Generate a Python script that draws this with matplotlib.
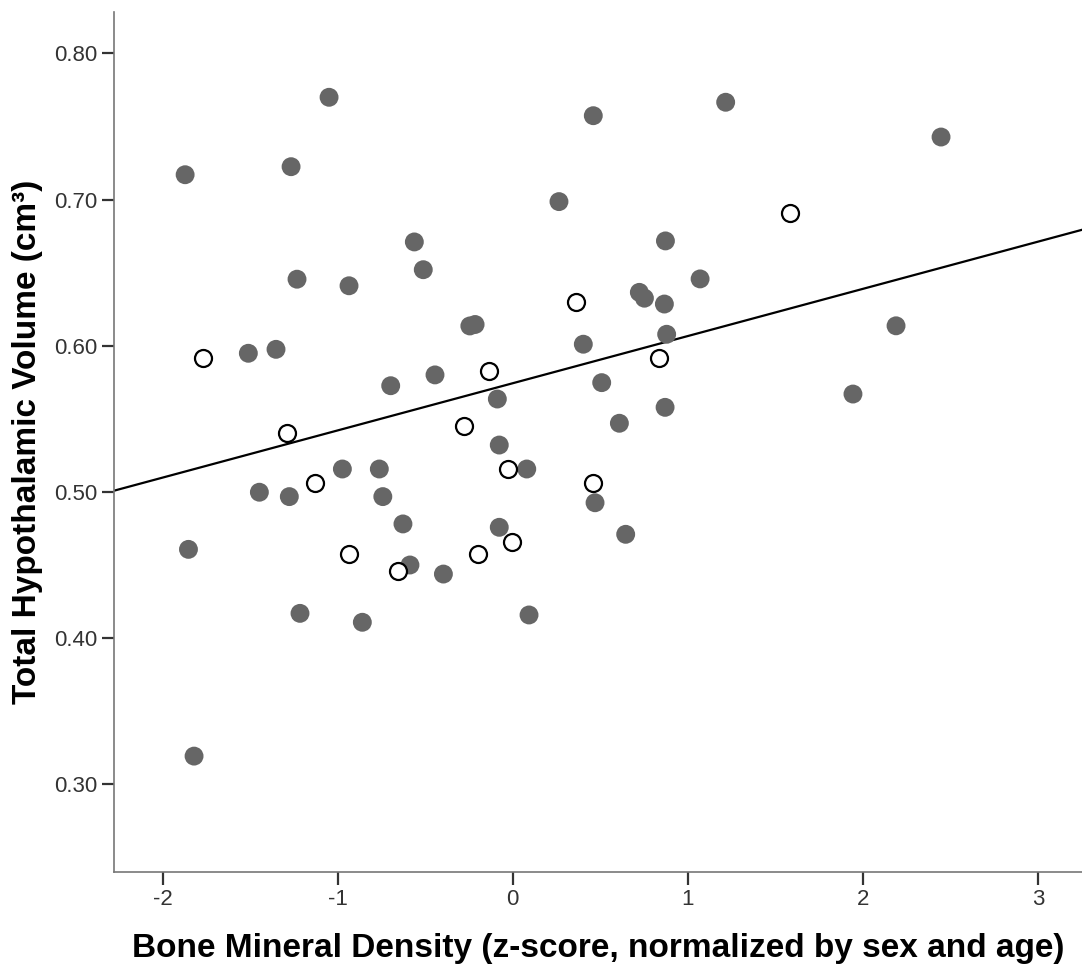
import matplotlib
matplotlib.use("Agg")
from matplotlib import pyplot as plt
import numpy as np

plt.rcParams['font.family'] = ['Liberation Sans', 'DejaVu Sans']
plt.rcParams['axes.unicode_minus'] = False

# Filled points (bone mineral density z-score, hypothalamic volume)
filled_x = [-1.871, -1.049, -1.266, -1.232, -0.935, -1.510, -1.352, -0.697,
            -1.852, -1.820, -1.447, -1.276, -0.973, -0.762, -0.742, -1.215,
            -0.859, -0.627, -0.587, -0.396, -0.562, -0.511, -0.444, -0.245,
            -0.215, -0.088, -0.077, -0.077, 0.080, 0.093, 0.470, 0.645,
            0.460, 1.216, 0.264, 0.872, 1.070, 0.723, 0.752, 0.866,
            0.879, 0.403, 0.508, 0.870, 0.609, 1.943, 2.189, 2.446]
filled_y = [0.717, 0.770, 0.7225, 0.6455, 0.641, 0.5948, 0.5975, 0.5726,
            0.4606, 0.3191, 0.4997, 0.4967, 0.5156, 0.5156, 0.4967, 0.4168,
            0.4107, 0.478, 0.4499, 0.4437, 0.671, 0.652, 0.580, 0.6135,
            0.6145, 0.5635, 0.532, 0.4757, 0.5156, 0.4157, 0.4925, 0.4709,
            0.7574, 0.7666, 0.6986, 0.6717, 0.6457, 0.6365, 0.6325, 0.6285,
            0.6078, 0.601, 0.5747, 0.5578, 0.5469, 0.5669, 0.6136, 0.7428]

# Open points
open_x = [-1.769, -1.287, -1.129, -0.933, -0.655, -0.133, -0.276, 0.360,
          0.836, 1.583, -0.029, 0.457, -0.196, -0.006]
open_y = [0.5914, 0.5405, 0.5058, 0.4574, 0.446, 0.5829, 0.545, 0.6297,
          0.5918, 0.6906, 0.5156, 0.5058, 0.4574, 0.4658]

# Fit line
fit_intercept = 0.5743
fit_slope = 0.0323

xticks = [-2, -1, 0, 1, 2, 3]
yticks = [0.30, 0.40, 0.50, 0.60, 0.70, 0.80]
ytick_labels = ["0.30", "0.40", "0.50", "0.60", "0.70", "0.80"]

fig = plt.figure(figsize=(10.82, 9.72), dpi=100)
ax = fig.add_axes([0.1054, 0.1029, 0.8946, 0.8848])

xmin, xmax = -2.277, 3.251
line_x = np.array([xmin, xmax])
ax.plot(line_x, fit_intercept + fit_slope * line_x, color="black", linewidth=1.6, zorder=2)

ax.scatter(filled_x, filled_y, s=185, color="#666666", edgecolors="none", zorder=3)
ax.scatter(open_x, open_y, s=150, facecolors="white", edgecolors="black",
           linewidths=1.6, zorder=4)

ax.set_xlim(xmin, xmax)
ax.set_ylim(0.2398, 0.8284)
ax.set_xticks(xticks)
ax.set_yticks(yticks)
ax.set_yticklabels(ytick_labels)

for side in ["top", "right"]:
    ax.spines[side].set_visible(False)
for side in ["left", "bottom"]:
    ax.spines[side].set_color("#777777")
    ax.spines[side].set_linewidth(1.2)

ax.tick_params(direction="out", length=9, width=1.6, color="#333333",
               labelsize=16, labelcolor="#333333", pad=3)

ax.set_xlabel("Bone Mineral Density (z-score, normalized by sex and age)",
              fontsize=24, fontweight="bold", labelpad=17)
ax.set_ylabel("Total Hypothalamic Volume (cm³)", fontsize=24,
              fontweight="bold", labelpad=8)

plt.savefig("out.png", dpi=100)
